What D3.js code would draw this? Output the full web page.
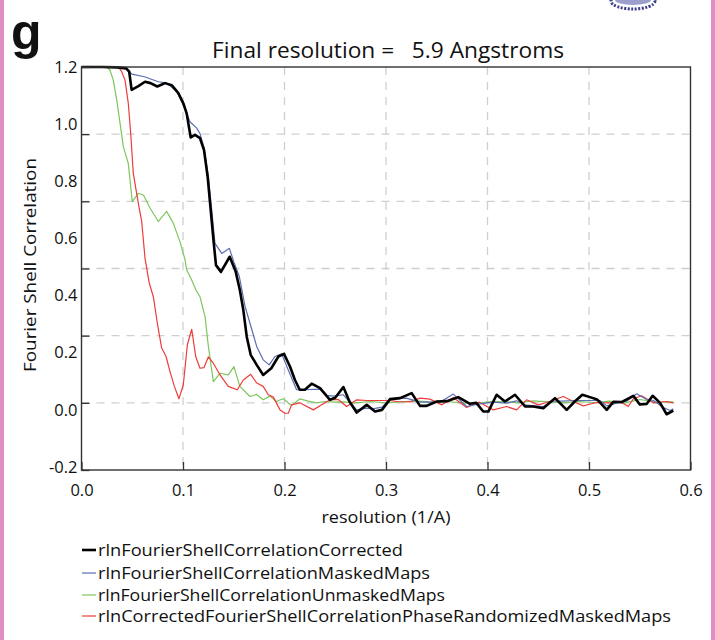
<!DOCTYPE html>
<html>
<head>
<meta charset="utf-8">
<script src="https://cdn.jsdelivr.net/npm/d3@7"></script>
<style>
  html, body { margin: 0; padding: 0; background: #fff; }
  svg { display: block; }
  text { font-family: "Open Sans", "Noto Sans", sans-serif; fill: #111; }
</style>
</head>
<body>
<svg id="chart" width="715" height="640"></svg>
<script>
// ---------- DATA ----------
const titleText = "Final resolution =   5.9 Angstroms";
const xLabel = "resolution (1/A)";
const yLabel = "Fourier Shell Correlation";
const xTicks = [0.0, 0.1, 0.2, 0.3, 0.4, 0.5, 0.6];
const xTickLabels = ["0.0", "0.1", "0.2", "0.3", "0.4", "0.5", "0.6"];
const yTicks = [-0.2, 0.0, 0.2, 0.4, 0.6, 0.8, 1.0];
const yTickLabels = ["-0.2", "0.0", "0.2", "0.4", "0.6", "0.8", "1.0", "1.2"];
const seriesNames = [
  "rlnFourierShellCorrelationCorrected",
  "rlnFourierShellCorrelationMaskedMaps",
  "rlnFourierShellCorrelationUnmaskedMaps",
  "rlnCorrectedFourierShellCorrelationPhaseRandomizedMaskedMaps"
];

const correctedX = [0,0.02,0.035,0.044,0.047,0.0494,0.056,0.0626,0.068,0.0747,0.0823,0.0889,0.0954,0.1003,0.1036,0.1076,0.1118,0.1167,0.1207,0.1243,0.1273,0.13,0.1325,0.1374,0.146,0.152,0.156,0.1594,0.1628,0.1667,0.1726,0.179,0.187,0.194,0.1995,0.2054,0.2103,0.215,0.22,0.2268,0.235,0.2448,0.25,0.258,0.264,0.2711,0.281,0.2892,0.296,0.304,0.3138,0.3253,0.3335,0.34,0.35,0.36,0.3712,0.3828,0.389,0.3958,0.4008,0.409,0.4172,0.4271,0.437,0.445,0.455,0.4665,0.478,0.486,0.4934,0.501,0.508,0.5175,0.524,0.532,0.5437,0.55,0.557,0.5627,0.57,0.5765,0.5831];
const correctedY = [1.0,1.0,0.999,0.996,0.986,0.932,0.943,0.956,0.952,0.942,0.952,0.946,0.922,0.892,0.862,0.79,0.798,0.788,0.753,0.673,0.574,0.485,0.41,0.39,0.435,0.39,0.336,0.277,0.197,0.143,0.113,0.083,0.103,0.138,0.146,0.108,0.068,0.039,0.039,0.057,0.044,0.009,0.015,0.047,0.004,-0.029,-0.006,-0.026,-0.021,0.011,0.014,0.029,-0.009,-0.009,0.004,0.005,0.017,-0.003,0.0,-0.026,-0.026,0.024,0.004,0.024,-0.011,-0.011,-0.016,0.014,-0.021,0.004,0.024,0.017,0.010,-0.021,0.003,0.002,0.021,-0.005,-0.003,0.021,0.0,-0.034,-0.023];

const maskedX = [0,0.035,0.044,0.0494,0.062,0.0757,0.084,0.0938,0.1003,0.1069,0.1135,0.1167,0.1207,0.125,0.1283,0.1315,0.1382,0.1457,0.15,0.1555,0.1611,0.166,0.1726,0.179,0.185,0.1906,0.1972,0.2037,0.2119,0.22,0.2284,0.235,0.2415,0.2481,0.258,0.2711,0.281,0.2868,0.296,0.304,0.32,0.3335,0.3532,0.3663,0.3794,0.392,0.4057,0.4188,0.4287,0.4385,0.4548,0.4648,0.4746,0.4845,0.4976,0.5107,0.5175,0.5272,0.5371,0.547,0.5568,0.5634,0.5732,0.5798,0.5831];
const maskedY = [1.0,0.999,0.995,0.979,0.971,0.956,0.952,0.927,0.887,0.837,0.818,0.802,0.76,0.673,0.574,0.475,0.445,0.46,0.42,0.376,0.287,0.237,0.168,0.128,0.113,0.138,0.146,0.098,0.039,0.039,0.040,0.040,0.022,0.020,0.024,-0.021,-0.016,-0.018,-0.013,0.011,0.014,0.002,0.002,0.026,-0.011,-0.003,0.002,-0.001,0.006,-0.007,-0.011,0.005,0.005,0.007,0.007,0.007,-0.009,-0.001,0.005,0.027,0.010,0.007,-0.014,-0.023,-0.018];

const unmaskedX = [0,0.0248,0.028,0.0313,0.0347,0.038,0.0412,0.0461,0.0478,0.05,0.056,0.061,0.0675,0.0757,0.0839,0.0904,0.097,0.102,0.1036,0.1086,0.1128,0.1167,0.1217,0.125,0.1299,0.1365,0.1446,0.1502,0.156,0.166,0.1726,0.179,0.1855,0.192,0.1986,0.207,0.2152,0.2234,0.2316,0.2399,0.2481,0.258,0.27,0.285,0.30,0.315,0.33,0.345,0.36,0.375,0.39,0.40,0.415,0.43,0.445,0.46,0.475,0.49,0.505,0.52,0.535,0.55,0.565,0.575,0.5831];
const unmaskedY = [1.0,1.0,0.991,0.961,0.902,0.832,0.763,0.713,0.664,0.599,0.624,0.619,0.58,0.54,0.57,0.535,0.48,0.426,0.396,0.366,0.336,0.316,0.257,0.168,0.063,0.088,0.083,0.108,0.049,0.019,0.025,0.009,0.020,0.004,0.012,-0.008,0.012,0.005,0.0,0.004,0.002,0.003,0.0,0.004,0.0,0.003,0.006,0.002,0.004,0.0,-0.002,0.003,0.004,0.0,0.006,0.003,0.0,0.004,0.001,0.005,0.0,0.010,0.003,0.002,0.003];

const randomizedX = [0,0.0363,0.0396,0.0429,0.0461,0.0485,0.051,0.056,0.0593,0.0626,0.0668,0.0708,0.0747,0.079,0.0833,0.0872,0.0915,0.096,0.1003,0.1043,0.1086,0.1125,0.1167,0.1207,0.125,0.1299,0.1365,0.1446,0.1535,0.1594,0.1667,0.1726,0.179,0.184,0.189,0.1956,0.2005,0.2037,0.207,0.215,0.2284,0.2366,0.2448,0.253,0.2612,0.2711,0.281,0.294,0.304,0.311,0.324,0.3335,0.3433,0.355,0.3663,0.3794,0.392,0.4057,0.4188,0.4287,0.4385,0.45,0.4582,0.4747,0.4845,0.4943,0.5073,0.5205,0.5305,0.5387,0.5437,0.5517,0.5634,0.5765,0.5831];
const randomizedY = [1.0,1.0,0.986,0.961,0.892,0.802,0.684,0.594,0.54,0.43,0.356,0.316,0.237,0.163,0.138,0.093,0.049,0.012,0.054,0.173,0.219,0.138,0.103,0.105,0.137,0.118,0.083,0.049,0.039,0.068,0.085,0.059,0.049,0.024,0.017,-0.021,-0.031,-0.031,-0.006,0.0,-0.021,-0.006,0.009,0.010,-0.011,0.009,0.007,0.007,0.007,0.004,0.003,0.014,0.011,-0.006,0.016,-0.014,0.002,-0.021,-0.011,-0.021,0.009,-0.006,0.001,0.019,0.004,-0.009,0.001,0.0,0.004,-0.011,0.012,0.021,0.0,0.004,0.0];

const seriesColors = ["#000000", "#5b6db3", "#7cc65c", "#ef3b3b"];
const seriesWidths = [2.6, 1.2, 1.2, 1.2];

// ---------- LAYOUT ----------
const svg = d3.select("#chart");
const plot = { left: 81.5, right: 690.5, top: 67, bottom: 470 };

const x = d3.scaleLinear().domain([0, 0.6]).range([plot.left, plot.right]);
const y = d3.scaleLinear().domain([-0.2, 1.0]).range([plot.bottom, plot.top]);
// the printed y labels are spaced evenly over the full axis height
const yLab = d3.scaleLinear().domain([-0.2, 1.2]).range([467, 67]);

// pink panel border
svg.append("rect").attr("x", 0).attr("y", 0).attr("width", 4).attr("height", 640).attr("fill", "#e38dc5");
svg.append("rect").attr("x", 711).attr("y", 0).attr("width", 4).attr("height", 640).attr("fill", "#e38dc5");

// fragment of neighbouring panel image (top right)
svg.append("ellipse").attr("cx", 633).attr("cy", 1).attr("rx", 22).attr("ry", 8)
  .attr("fill", "none").attr("stroke", "#3c3f8c").attr("stroke-width", 3).attr("stroke-dasharray", "2,1.5");
svg.append("ellipse").attr("cx", 633).attr("cy", 0).attr("rx", 18).attr("ry", 5).attr("fill", "#5a5fa8").attr("opacity", 0.6);

// panel letter
svg.append("text").attr("x", 11).attr("y", 49).text("g")
  .style("font-family", "'Liberation Sans', Arial, sans-serif")
  .style("font-weight", "bold").style("font-size", "50px");

// title
svg.append("text").attr("x", 212).attr("y", 58)
  .attr("textLength", 352).attr("lengthAdjust", "spacingAndGlyphs")
  .style("white-space", "pre").style("font-size", "22px").text(titleText);

// grid
const g = svg.append("g");
g.selectAll(".hgrid").data(yTicks.filter(v => v > -0.2 && v < 1.0)).join("line")
  .attr("x1", plot.left).attr("x2", plot.right)
  .attr("y1", d => y(d)).attr("y2", d => y(d))
  .attr("stroke", "#cfcfcf").attr("stroke-width", 1.3).attr("stroke-dasharray", "8,7");
g.selectAll(".vgrid").data(xTicks.filter(v => v > 0 && v < 0.6)).join("line")
  .attr("x1", d => x(d)).attr("x2", d => x(d))
  .attr("y1", plot.top).attr("y2", plot.bottom)
  .attr("stroke", "#cfcfcf").attr("stroke-width", 1.3).attr("stroke-dasharray", "8,7");

// series
const line = d3.line().x(d => x(d[0])).y(d => y(d[1]));
const seriesData = [
  d3.zip(unmaskedX, unmaskedY),
  d3.zip(randomizedX, randomizedY),
  d3.zip(maskedX, maskedY),
  d3.zip(correctedX, correctedY)
];
const order = [2, 3, 1, 0];
seriesData.forEach((pts, i) => {
  const si = order[i];
  svg.append("path").attr("d", line(pts))
    .attr("fill", "none").attr("stroke", seriesColors[si])
    .attr("stroke-width", seriesWidths[si]).attr("stroke-linejoin", "round");
});

// frame
svg.append("rect").attr("x", plot.left).attr("y", plot.top)
  .attr("width", plot.right - plot.left).attr("height", plot.bottom - plot.top)
  .attr("fill", "none").attr("stroke", "#333").attr("stroke-width", 1.4);

// axes: tick marks (inward)
const xAxis = d3.axisBottom(x).tickValues(xTicks).tickSize(-8).tickFormat((d, i) => xTickLabels[i]).tickPadding(14);
const gx = svg.append("g").attr("transform", `translate(0,${plot.bottom})`).call(xAxis);
gx.select(".domain").remove();
gx.selectAll(".tick line").attr("stroke", "#333").attr("stroke-width", 1.3);
gx.selectAll(".tick text").style("font-size", "16.5px").attr("fill", "#111")
  .style("font-family", "'Open Sans', sans-serif");

const yAxis = d3.axisLeft(y).tickValues(yTicks).tickSize(-8).tickFormat("");
const gy = svg.append("g").attr("transform", `translate(${plot.left},0)`).call(yAxis);
gy.select(".domain").remove();
gy.selectAll(".tick line").attr("stroke", "#333").attr("stroke-width", 1.3);

// y labels (placed as printed on the figure)
const yLabAxis = d3.axisLeft(yLab).tickValues(yTickLabels.map(Number)).tickSize(0)
  .tickFormat((d, i) => yTickLabels[i]).tickPadding(4);
const gyl = svg.append("g").attr("transform", `translate(${plot.left},0)`).call(yLabAxis);
gyl.select(".domain").remove();
gyl.selectAll(".tick text").style("font-size", "16.5px").attr("fill", "#111")
  .style("font-family", "'Open Sans', sans-serif");

// axis titles
svg.append("text").attr("x", 386).attr("y", 523).attr("text-anchor", "middle")
  .attr("textLength", 129).attr("lengthAdjust", "spacingAndGlyphs")
  .style("font-size", "17px").text(xLabel);
svg.append("text").attr("transform", "translate(36,265) rotate(-90)").attr("text-anchor", "middle")
  .attr("textLength", 214).attr("lengthAdjust", "spacingAndGlyphs")
  .style("font-size", "17px").text(yLabel);

// legend
const legendY = [550, 573, 595, 616];
const legendW = [305, 332, 347, 573];
const lg = svg.append("g");
seriesNames.forEach((name, i) => {
  lg.append("line").attr("x1", 82).attr("x2", 96).attr("y1", legendY[i]).attr("y2", legendY[i])
    .attr("stroke", seriesColors[i]).attr("stroke-width", i === 0 ? 2.6 : 1.2);
  lg.append("text").attr("x", 98).attr("y", legendY[i] + 6)
    .attr("textLength", legendW[i]).attr("lengthAdjust", "spacingAndGlyphs")
    .style("font-size", "17px").text(name);
});
</script>
</body>
</html>
